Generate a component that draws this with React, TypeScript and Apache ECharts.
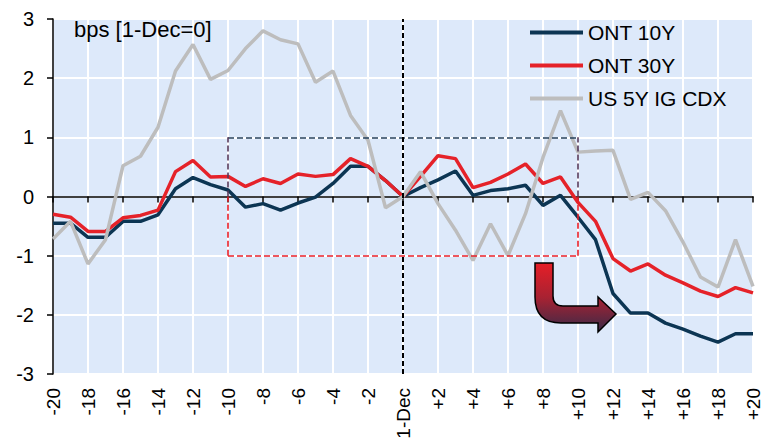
import React, { useEffect, useRef } from "react";
import * as echarts from "echarts";

const days = [-20, -19, -18, -17, -16, -15, -14, -13, -12, -11, -10, -9, -8, -7, -6, -5, -4, -3, -2, -1, 0, 1, 2, 3, 4, 5, 6, 7, 8, 9, 10, 11, 12, 13, 14, 15, 16, 17, 18, 19, 20];

const ont10 = [-0.45, -0.45, -0.69, -0.69, -0.42, -0.42, -0.31, 0.13, 0.32, 0.2, 0.11, -0.18, -0.12, -0.23, -0.11, -0.01, 0.22, 0.51, 0.51, 0.27, 0, 0.15, 0.28, 0.43, 0.02, 0.1, 0.13, 0.19, -0.15, 0.02, -0.35, -0.73, -1.64, -1.97, -1.97, -2.14, -2.24, -2.36, -2.46, -2.32, -2.32];

const ont30 = [-0.3, -0.35, -0.59, -0.59, -0.36, -0.32, -0.23, 0.42, 0.61, 0.33, 0.34, 0.17, 0.3, 0.22, 0.38, 0.34, 0.37, 0.64, 0.51, 0.27, 0, 0.34, 0.69, 0.64, 0.15, 0.24, 0.38, 0.55, 0.22, 0.33, -0.1, -0.42, -1.05, -1.26, -1.14, -1.33, -1.46, -1.6, -1.69, -1.54, -1.63];

const cdx = [-0.72, -0.42, -1.14, -0.73, 0.52, 0.68, 1.17, 2.12, 2.57, 1.98, 2.13, 2.5, 2.8, 2.65, 2.58, 1.93, 2.12, 1.37, 0.95, -0.19, 0, 0.42, -0.12, -0.57, -1.08, -0.46, -1.0, -0.29, 0.66, 1.45, 0.75, 0.77, 0.78, -0.05, 0.07, -0.24, -0.77, -1.36, -1.53, -0.73, -1.52];

const seriesNames = ["ONT 10Y", "ONT 30Y", "US 5Y IG CDX"];
const xTickLabels = ["-20", "-18", "-16", "-14", "-12", "-10", "-8", "-6", "-4", "-2", "1-Dec", "+2", "+4", "+6", "+8", "+10", "+12", "+14", "+16", "+18", "+20"];
const titleText = "bps [1-Dec=0]";
// highlight box bounds (days, bps)
const boxX = [-10, 10];
const boxY = [-1, 1];

const ARROW_D =
  "M535 263 L535 297 Q535 323 561 323 L598 323 L598 332 L616 314 L598 297 L598 306 L563 306 Q553 306 553 296 L553 263 Z";
echarts.graphic.registerShape("turnArrow", echarts.graphic.extendPath(ARROW_D, {}));

const FONT = "'Liberation Sans', Arial, Helvetica, sans-serif";

export default function App() {
  const ref = useRef<HTMLDivElement>(null);
  useEffect(() => {
    if (!ref.current) return;
    const chart = echarts.init(ref.current, undefined, { renderer: "svg" });
    const pairs = (vals: number[]) => days.map((d, i) => [d, vals[i]]);
    const navyDash = { color: "#24405c", type: [6, 3] as any, width: 1.6 };
    const purpleDash = { color: "#553a5c", type: [6, 3] as any, width: 1.6 };
    const redDash = { color: "#e8202a", type: [6, 3] as any, width: 1.6 };
    const option: any = {
      animation: false,
      backgroundColor: "#ffffff",
      textStyle: { fontFamily: FONT },
      title: {
        text: titleText,
        left: 74,
        top: 18,
        padding: 0,
        textStyle: { fontSize: 22, fontWeight: "normal", color: "#000", fontFamily: FONT },
      },
      legend: {
        orient: "vertical",
        left: 530,
        top: 22,
        padding: 0,
        icon: "path://M0,0 L53,0 L53,4 L0,4 Z",
        itemWidth: 53,
        itemHeight: 4,
        itemGap: 12,
        textStyle: { fontSize: 21, color: "#000", fontFamily: FONT },
        data: seriesNames,
      },
      grid: {
        left: 53,
        top: 19,
        width: 700,
        height: 355,
        show: true,
        backgroundColor: "#dde9fa",
        borderWidth: 0,
      },
      xAxis: [
        {
          type: "value",
          min: -20,
          max: 20,
          interval: 2,
          axisLine: { show: false, onZero: false },
          axisTick: { show: false },
          splitLine: { show: true, lineStyle: { color: "#ffffff", width: 2 } },
          axisLabel: {
            rotate: 90,
            fontSize: 19,
            color: "#000",
            margin: 14,
            fontFamily: FONT,
            formatter: (v: number) => xTickLabels[Math.round((v + 20) / 2)] ?? "",
          },
        },
        {
          type: "value",
          min: -20,
          max: 20,
          interval: 2,
          position: "bottom",
          axisLine: { show: true, onZero: true, onZeroAxisIndex: 0, lineStyle: { color: "#000", width: 1.5 } },
          axisTick: { show: true, length: 6, lineStyle: { color: "#000", width: 1.5 } },
          axisLabel: { show: false },
          splitLine: { show: false },
        },
      ],
      yAxis: {
        type: "value",
        min: -3,
        max: 3,
        interval: 1,
        axisLine: { show: true, onZero: false, lineStyle: { color: "#000", width: 1.5 } },
        axisTick: { show: true, length: 6, lineStyle: { color: "#000", width: 1.5 } },
        axisLabel: { fontSize: 20, color: "#000", margin: 19, fontFamily: FONT },
        splitLine: { show: true, lineStyle: { color: "#ffffff", width: 2 } },
      },
      series: [
        {
          name: seriesNames[0],
          type: "line",
          xAxisIndex: 0,
          data: pairs(ont10),
          symbol: "none",
          lineStyle: { color: "#0c3553", width: 3.5 },
          itemStyle: { color: "#0c3553" },
          z: 3,
          markLine: {
            silent: true,
            symbol: ["none", "none"],
            label: { show: false },
            data: [
              [{ coord: [boxX[0], boxY[1]], lineStyle: navyDash }, { coord: [boxX[1], boxY[1]] }],
              [{ coord: [boxX[0], 0], lineStyle: purpleDash }, { coord: [boxX[0], boxY[1]] }],
              [{ coord: [boxX[1], 0], lineStyle: purpleDash }, { coord: [boxX[1], boxY[1]] }],
              [{ coord: [boxX[0], boxY[0]], lineStyle: redDash }, { coord: [boxX[1], boxY[0]] }],
              [{ coord: [boxX[0], boxY[0]], lineStyle: redDash }, { coord: [boxX[0], 0] }],
              [{ coord: [boxX[1], boxY[0]], lineStyle: redDash }, { coord: [boxX[1], 0] }],
              { xAxis: 0, lineStyle: { color: "#000", type: [5, 3], width: 2 } },
            ],
          },
        },
        {
          name: seriesNames[1],
          type: "line",
          xAxisIndex: 0,
          data: pairs(ont30),
          symbol: "none",
          lineStyle: { color: "#e52229", width: 3.5 },
          itemStyle: { color: "#e52229" },
          z: 3,
        },
        {
          name: seriesNames[2],
          type: "line",
          xAxisIndex: 0,
          data: pairs(cdx),
          symbol: "none",
          lineStyle: { color: "#bdbdbd", width: 3.5 },
          itemStyle: { color: "#bdbdbd" },
          z: 3,
        },
      ],
      graphic: [
        {
          type: "turnArrow",
          x: 0,
          y: 0,
          z: 100,
          style: {
            fill: new echarts.graphic.LinearGradient(0, 0, 0, 1, [
              { offset: 0, color: "#e61e27" },
              { offset: 0.5, color: "#a82232" },
              { offset: 1, color: "#382a48" },
            ]),
            stroke: "#000",
            lineWidth: 1.5,
          },
        },
      ],
    };
    chart.setOption(option);
    return () => chart.dispose();
  }, []);
  return <div ref={ref} style={{ width: 772, height: 447, position: "absolute", left: 0, top: 0 }} />;
}
